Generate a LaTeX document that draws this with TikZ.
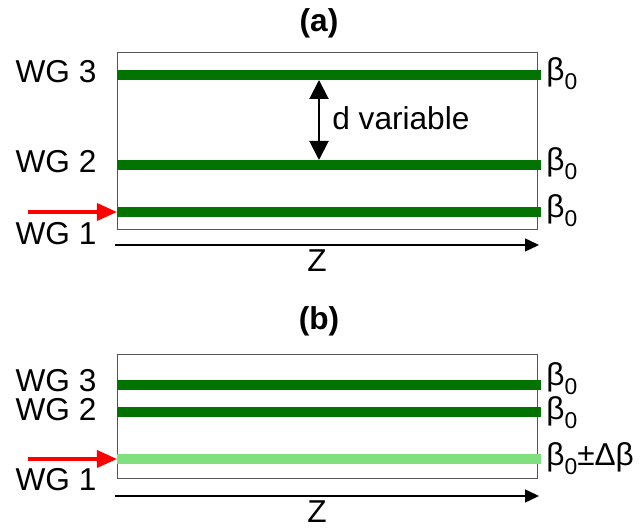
\documentclass[tikz,border=0pt]{standalone}
\usepackage{fontspec}
\setmainfont{Liberation Sans}
\usepackage{tikz}
\usetikzlibrary{positioning,arrows.meta}
\definecolor{cwg}{HTML}{007300}
\definecolor{cwglight}{HTML}{80E080}
\definecolor{cin}{HTML}{FF0000}
\definecolor{cframe}{HTML}{555555}
\newcommand{\lowidx}[1]{\raisebox{-0.28em}{\fontsize{13}{15}\selectfont #1}}

\begin{document}
\begin{tikzpicture}[x=0.2mm,y=-0.2mm,
    every node/.style={font=\fontsize{18}{21}\selectfont,inner sep=0pt},
    wg/.style={line width=2mm,cwg},
    wgdet/.style={line width=2mm,cwglight},
    frame/.style={draw=cframe,line width=0.2mm},
    inarrow/.style={-{Triangle[length=4mm,width=3.4mm]},cin,line width=0.66mm},
    zaxis/.style={-{Triangle[length=2.8mm,width=2.6mm]},line width=0.3mm},
    gap/.style={{Triangle[length=3.8mm,width=3.8mm]}-{Triangle[length=3.8mm,width=3.8mm]},line width=0.4mm}]
    \useasboundingbox (0,0) rectangle (641,531);

    % (a) three equal waveguides
    \node[anchor=base,font=\fontsize{18}{21}\selectfont\bfseries] (tita) at (319,32) {(a)};
    \draw[frame] (117,53) rectangle (537,230);
    \coordinate (a3s) at (117,75);  \coordinate (a3e) at (541,75);
    \coordinate (a2s) at (117,165); \coordinate (a2e) at (541,165);
    \coordinate (a1s) at (117,212); \coordinate (a1e) at (541,212);
    \draw[wg] (a3s) -- (a3e);
    \draw[wg] (a2s) -- (a2e);
    \draw[wg] (a1s) -- (a1e);
    \node[anchor=base] (wg3a) at (56,83) {WG 3};
    \node[anchor=base] (wg2a) at (56,173) {WG 2};
    \node[anchor=base] (wg1a) at (56,245) {WG 1};
    \node[anchor=base west] (beta3a) at (546,81) {β\lowidx{0}};
    \node[anchor=base west] (beta2a) at (546,171) {β\lowidx{0}};
    \node[anchor=base west] (beta1a) at (546,218) {β\lowidx{0}};
    \coordinate (ina) at (28,212);
    \draw[inarrow] (ina) -- (a1s);
    \coordinate (gap3) at (319,80); \coordinate (gap2) at (319,160);
    \draw[gap] (gap3) -- (gap2);
    \node[anchor=base west] (dvar) at (332,130) {d variable};
    \coordinate (za0) at (115,245); \coordinate (za1) at (539,245);
    \draw[zaxis] (za0) -- (za1);
    \node[anchor=base] (zlaba) at (317,272) {Z};

    % (b) detuned input waveguide
    \node[anchor=base,font=\fontsize{18}{21}\selectfont\bfseries] (titb) at (319,330) {(b)};
    \draw[frame] (117,355) rectangle (537,479);
    \coordinate (b3s) at (117,385); \coordinate (b3e) at (541,385);
    \coordinate (b2s) at (117,412); \coordinate (b2e) at (541,412);
    \coordinate (b1s) at (117,459); \coordinate (b1e) at (541,459);
    \draw[wg] (b3s) -- (b3e);
    \draw[wg] (b2s) -- (b2e);
    \draw[wgdet] (b1s) -- (b1e);
    \node[anchor=base] (wg3b) at (56,392) {WG 3};
    \node[anchor=base] (wg2b) at (56,421) {WG 2};
    \node[anchor=base] (wg1b) at (56,491) {WG 1};
    \node[anchor=base west] (beta3b) at (546,386) {β\lowidx{0}};
    \node[anchor=base west] (beta2b) at (546,420) {β\lowidx{0}};
    \node[anchor=base west] (beta1b) at (546,466) {β\lowidx{0}±Δβ};
    \coordinate (inb) at (28,459);
    \draw[inarrow] (inb) -- (b1s);
    \coordinate (zb0) at (115,496); \coordinate (zb1) at (539,496);
    \draw[zaxis] (zb0) -- (zb1);
    \node[anchor=base] (zlabb) at (317,523) {Z};
\end{tikzpicture}
\end{document}
